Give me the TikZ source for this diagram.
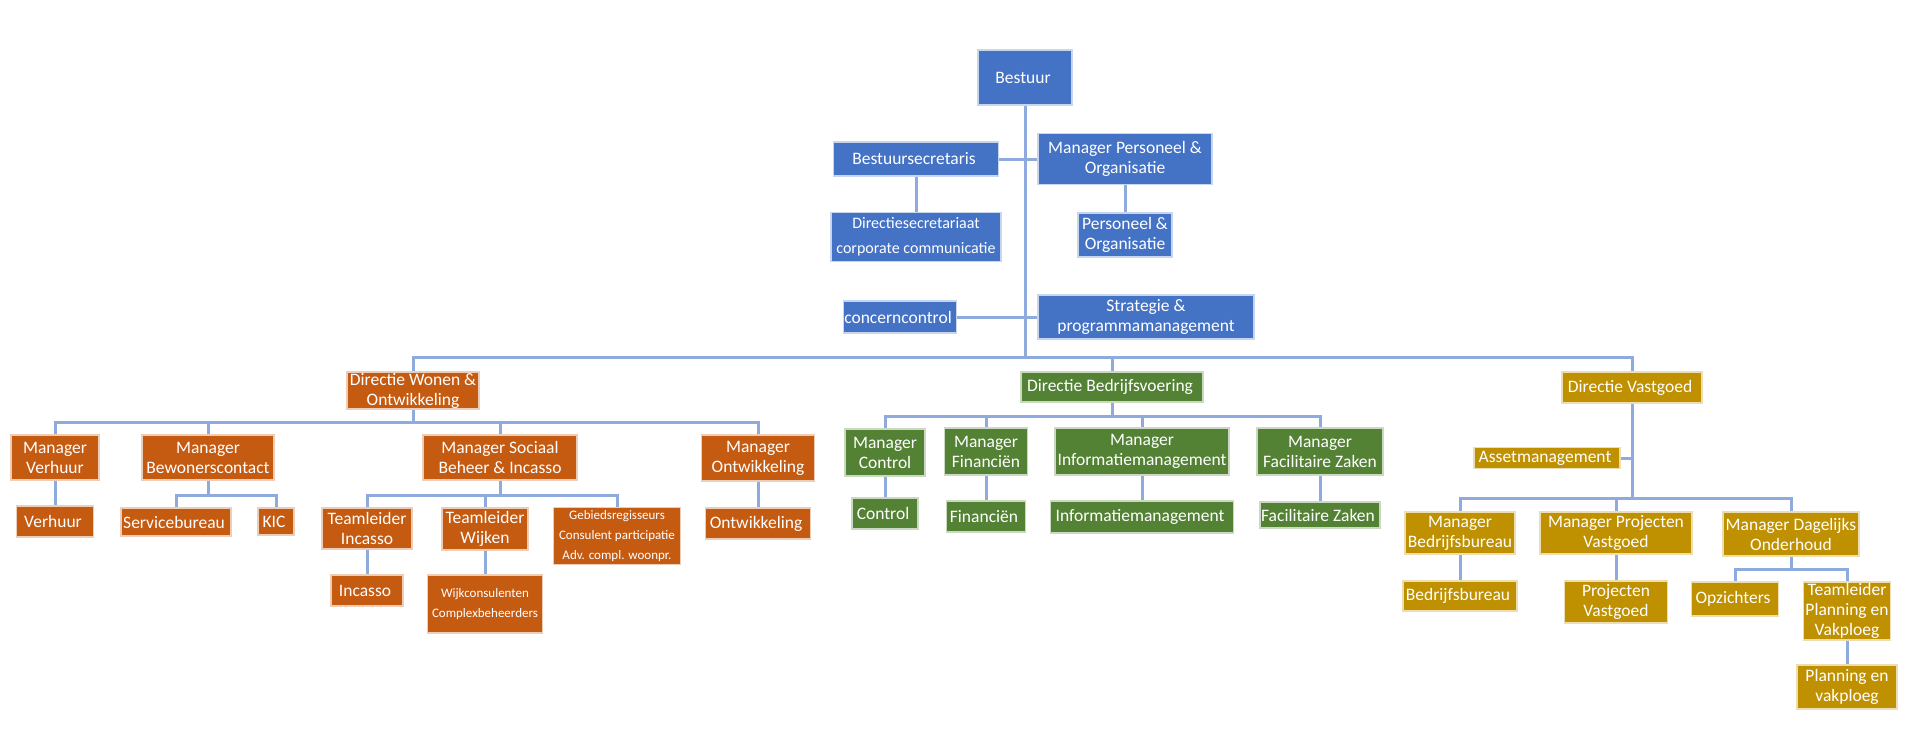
\documentclass[tikz,border=0pt]{standalone}
\usepackage{fontspec}
\setmainfont{Carlito}

\definecolor{blueC}{HTML}{4472C4}
\definecolor{orangeC}{HTML}{C55A11}
\definecolor{greenC}{HTML}{548235}
\definecolor{goldC}{HTML}{BF9000}
\definecolor{lineC}{HTML}{8FAADC}

\tikzset{
  box/.style={rectangle, text=white, align=center, inner xsep=1pt, inner ysep=0pt,
    line width=1.5pt, font=\fontsize{17.5}{20}\selectfont},
  bluebox/.style={box, fill=blueC, draw=blueC!30},
  orangebox/.style={box, fill=orangeC, draw=orangeC!30},
  greenbox/.style={box, fill=greenC, draw=greenC!30},
  goldbox/.style={box, fill=goldC, draw=goldC!30},
  smalltext/.style={font=\fontsize{13}{20}\selectfont},
  wh/.style 2 args={minimum width=#1pt, minimum height=#2pt},
  link/.style={draw=lineC, line width=3pt},
}

\begin{document}
\begin{tikzpicture}[x=1pt, y=-1pt]

\useasboundingbox (0,0) rectangle (1920,752);

%% Bestuur and staff
\node [bluebox, wh={94}{55}] (bestuur) at (1025,77.5) { Bestuur };
\node [bluebox, wh={165}{34}] (bestsec) at (916,159) { Bestuursecretaris };
\node [bluebox, wh={174}{51}] (mpo) at (1125,159) { Manager Personeel \&\\Organisatie };
\node [bluebox, wh={170}{49}, font=\fontsize{16}{25}\selectfont] (dirsec) at (916,237) { Directiesecretariaat\\corporate communicatie };
\node [bluebox, wh={94}{44}] (po) at (1125,235) { Personeel \&\\Organisatie };
\node [bluebox, wh={113}{32}] (concern) at (900,317) { concerncontrol };
\node [bluebox, wh={216}{44}] (strategie) at (1146,317) { Strategie \&\\programmamanagement };

\draw [link] (bestuur.south) -- ++(0,252) coordinate (hub);
\draw [link] (bestsec.east) -- (mpo.west);
\draw [link] (bestsec.south) -- (dirsec.north);
\draw [link] (mpo.south) -- (po.north);
\draw [link] (concern.east) -- (strategie.west);

%% Directies
\node [orangebox, wh={132}{37}] (dirwonen) at (413,390.5) { Directie Wonen \&\\Ontwikkeling };
\node [greenbox, wh={182}{30}] (dirbedrijf) at (1112,387) { Directie Bedrijfsvoering };
\node [goldbox, wh={140}{31}] (dirvastgoed) at (1632,387.5) { Directie Vastgoed };

\draw [link] (hub) -| (dirwonen.north);
\draw [link] (hub) -| (dirbedrijf.north);
\draw [link] (hub) -| (dirvastgoed.north);

%% Wonen & Ontwikkeling, managers
\node [orangebox, wh={88}{45}] (mverhuur) at (55,457.5) { Manager\\Verhuur };
\node [orangebox, wh={132}{45}] (mbewoners) at (208,457.5) { Manager\\Bewonerscontact };
\node [orangebox, wh={154}{45}] (msociaal) at (500,457.5) { Manager Sociaal\\Beheer \& Incasso };
\node [orangebox, wh={113}{46}] (montw) at (758,458) { Manager\\Ontwikkeling };

\draw [link] (dirwonen.south) -- ++(0,13) coordinate (wonenbar);
\draw [link] (wonenbar) -| (mverhuur.north);
\draw [link] (wonenbar) -| (mbewoners.north);
\draw [link] (wonenbar) -| (msociaal.north);
\draw [link] (wonenbar) -| (montw.north);

%% Wonen & Ontwikkeling, teams
\node [orangebox, wh={77}{31}] (verhuur) at (55,521.5) { Verhuur };
\node [orangebox, wh={110}{28}] (servicebureau) at (176,522) { Servicebureau };
\node [orangebox, wh={36}{27}] (kic) at (276,521.5) { KIC };
\node [orangebox, wh={90}{41}] (tlincasso) at (367,528.5) { Teamleider\\Incasso };
\node [orangebox, wh={86}{42}] (tlwijken) at (485,529) { Teamleider\\Wijken };
\node [orangebox, wh={127}{57}, smalltext] (gebied) at (617,536) { Gebiedsregisseurs\\Consulent participatie\\Adv. compl. woonpr. };
\node [orangebox, wh={105}{31}] (ontw) at (758,523.5) { Ontwikkeling };
\node [orangebox, wh={72}{31}] (incasso) at (367,590.5) { Incasso };
\node [orangebox, wh={115}{58}, smalltext] (wijkcons) at (485,604) { Wijkconsulenten\\Complexbeheerders };

\draw [link] (mverhuur.south) -- (verhuur.north);
\draw [link] (mbewoners.south) -- ++(0,15) coordinate (bewonersbar);
\draw [link] (bewonersbar) -| (servicebureau.north);
\draw [link] (bewonersbar) -| (kic.north);
\draw [link] (msociaal.south) -- ++(0,15) coordinate (sociaalbar);
\draw [link] (sociaalbar) -| (tlincasso.north);
\draw [link] (sociaalbar) -| (tlwijken.north);
\draw [link] (sociaalbar) -| (gebied.north);
\draw [link] (montw.south) -- (ontw.north);
\draw [link] (tlincasso.south) -- (incasso.north);
\draw [link] (tlwijken.south) -- (wijkcons.north);

%% Bedrijfsvoering
\node [greenbox, wh={80}{47}] (mcontrol) at (885,452.5) { Manager\\Control };
\node [greenbox, wh={83}{47}] (mfin) at (986,451.5) { Manager\\Financiën };
\node [greenbox, wh={174}{47}] (minfo) at (1142,451.5) { Manager\\Informatiemanagement };
\node [greenbox, wh={126}{47}] (mfac) at (1320,451.5) { Manager\\Facilitaire Zaken };
\node [greenbox, wh={66}{31}] (control) at (885,513.5) { Control };
\node [greenbox, wh={79}{31}] (fin) at (986,516.5) { Financiën };
\node [greenbox, wh={183}{32}] (info) at (1142,517) { Informatiemanagement };
\node [greenbox, wh={119}{26}] (fac) at (1320,515) { Facilitaire Zaken };

\draw [link] (dirbedrijf.south) -- ++(0,14) coordinate (bedrijfbar);
\draw [link] (bedrijfbar) -| (mcontrol.north);
\draw [link] (bedrijfbar) -| (mfin.north);
\draw [link] (bedrijfbar) -| (minfo.north);
\draw [link] (bedrijfbar) -| (mfac.north);
\draw [link] (mcontrol.south) -- (control.north);
\draw [link] (mfin.south) -- (fin.north);
\draw [link] (minfo.south) -- (info.north);
\draw [link] (mfac.south) -- (fac.north);

%% Vastgoed
\node [goldbox, wh={146}{21}] (asset) at (1547,458) { Assetmanagement };
\node [goldbox, wh={110}{42}] (mbedrijfsb) at (1460,533) { Manager\\Bedrijfsbureau };
\node [goldbox, wh={152}{42}] (mproj) at (1616,533) { Manager Projecten\\Vastgoed };
\node [goldbox, wh={136}{44}] (mdagelijks) at (1791,534) { Manager Dagelijks\\Onderhoud };
\node [goldbox, wh={114}{30}] (bedrijfsb) at (1460,596) { Bedrijfsbureau };
\node [goldbox, wh={103}{42}] (proj) at (1616,602) { Projecten\\Vastgoed };
\node [goldbox, wh={87}{34}] (opzichters) at (1735,599) { Opzichters };
\node [goldbox, wh={87}{58}] (tlplanning) at (1847,611) { Teamleider\\Planning en\\Vakploeg };
\node [goldbox, wh={100}{44}] (planning) at (1847,687) { Planning en\\vakploeg };

\draw [link] (dirvastgoed.south) -- ++(0,95) coordinate (vastgoedbar);
\draw [link] (asset.east) -- (asset.east -| dirvastgoed.south);
\draw [link] (vastgoedbar) -| (mbedrijfsb.north);
\draw [link] (vastgoedbar) -| (mproj.north);
\draw [link] (vastgoedbar) -| (mdagelijks.north);
\draw [link] (mbedrijfsb.south) -- (bedrijfsb.north);
\draw [link] (mproj.south) -- (proj.north);
\draw [link] (mdagelijks.south) -- ++(0,13) coordinate (dagelijksbar);
\draw [link] (dagelijksbar) -| (opzichters.north);
\draw [link] (dagelijksbar) -| (tlplanning.north);
\draw [link] (tlplanning.south) -- (planning.north);

\end{tikzpicture}
\end{document}
